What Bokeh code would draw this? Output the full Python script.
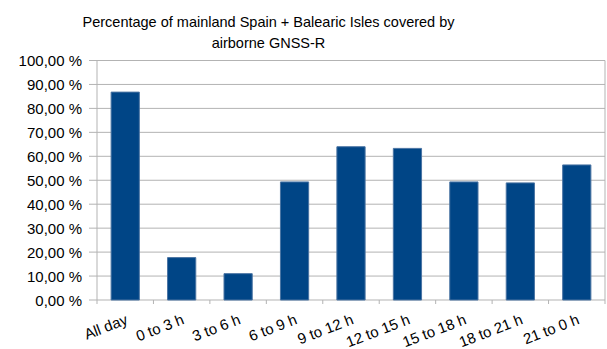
import math
from bokeh.plotting import figure
from bokeh.models import ColumnDataSource, Range1d
from bokeh.core.properties import value
from bokeh.embed import file_html
from bokeh.resources import INLINE

categories = ["All day", "0 to 3 h", "3 to 6 h", "6 to 9 h", "9 to 12 h",
              "12 to 15 h", "15 to 18 h", "18 to 21 h", "21 to 0 h"]
coverage = [86.8, 17.7, 11.0, 49.3, 64.0, 63.3, 49.3, 48.9, 56.4]
y_ticks = [0, 10, 20, 30, 40, 50, 60, 70, 80, 90, 100]
y_tick_labels = ["0,00 %", "10,00 %", "20,00 %", "30,00 %", "40,00 %", "50,00 %",
                 "60,00 %", "70,00 %", "80,00 %", "90,00 %", "100,00 %"]
title_lines = ["Percentage of mainland Spain + Balearic Isles covered by",
               "airborne GNSS-R"]

FONT = "Liberation Sans"
BAR = "#004586"
GRID = "#b3b3b3"

# canvas geometry (pixels)
W, H = 607, 349
LEFT = 96.5         # plot area left edge (y axis line)
RIGHT_LINE = 604.5  # plot area right edge
TOP_PX = 60         # pixel row of 100 %
ZERO_PX = 299.5     # pixel row of 0 %

n = len(categories)
y_max = y_ticks[-1]
ppu_y = (ZERO_PX - TOP_PX) / y_max
ppu_x = (RIGHT_LINE - LEFT) / n


def px_to_x(px):
    return (px - LEFT) / ppu_x


def px_to_y(py):
    return (ZERO_PX - py) / ppu_y


centers = [i + 0.5 for i in range(n)]
bounds = [float(i) for i in range(n + 1)]

p = figure(width=W, height=H, output_backend="svg", toolbar_location=None,
           x_axis_location=None, y_axis_location=None,
           x_range=Range1d(px_to_x(0), px_to_x(W)),
           y_range=Range1d(px_to_y(H), px_to_y(0)),
           min_border_left=0, min_border_right=0, min_border_top=0,
           min_border_bottom=0)
p.title = None
p.background_fill_color = "white"
p.border_fill_color = "white"
p.outline_line_color = None
p.grid.visible = False

# horizontal grid lines
p.segment(x0=[bounds[0]] * len(y_ticks), y0=y_ticks,
          x1=[bounds[-1]] * len(y_ticks), y1=y_ticks,
          line_color=GRID, line_width=1)
# right border of plot area
p.segment(x0=[bounds[-1]], y0=[y_ticks[0]], x1=[bounds[-1]], y1=[y_max],
          line_color=GRID, line_width=1)

# bars
src = ColumnDataSource(dict(x=centers, top=coverage, cat=categories))
p.vbar(x="x", top="top", width=0.5, bottom=0, source=src,
       fill_color=BAR, line_color="#4a74a3", line_width=1)

# y axis line and ticks
p.segment(x0=[bounds[0]], y0=[y_ticks[0]], x1=[bounds[0]], y1=[y_max],
          line_color=GRID, line_width=1)
p.ray(x=[bounds[0]] * len(y_ticks), y=y_ticks, length=8, length_units="screen",
      angle=math.pi, line_color=GRID, line_width=1)
p.text(x=[bounds[0]] * len(y_ticks), y=y_ticks, text=y_tick_labels,
       x_offset=-15, text_align="right", text_baseline="middle",
       text_font=value(FONT), text_font_size="15px", text_color="#000000")

# category separator ticks below the x axis line
p.ray(x=bounds, y=[0] * len(bounds), length=4, length_units="screen",
      angle=-math.pi / 2, line_color=GRID, line_width=1)

# category labels
p.text(x="x", y=0, text="cat", source=src, angle=math.radians(21),
       text_align="right", text_baseline="alphabetic",
       x_offset=1.5, y_offset=18.5,
       text_font=value(FONT), text_font_size="15px", text_color="#000000")

# title
tsrc = ColumnDataSource(dict(x=[px_to_x(268)] * 2,
                             y=[px_to_y(21.7), px_to_y(42.3)],
                             t=title_lines))
p.text(x="x", y="y", text="t", source=tsrc, text_align="center",
       text_baseline="alphabetic", text_font=value(FONT),
       text_font_size="14.5px", text_color="#000000")

open("out.html", "w").write(file_html(p, INLINE))
